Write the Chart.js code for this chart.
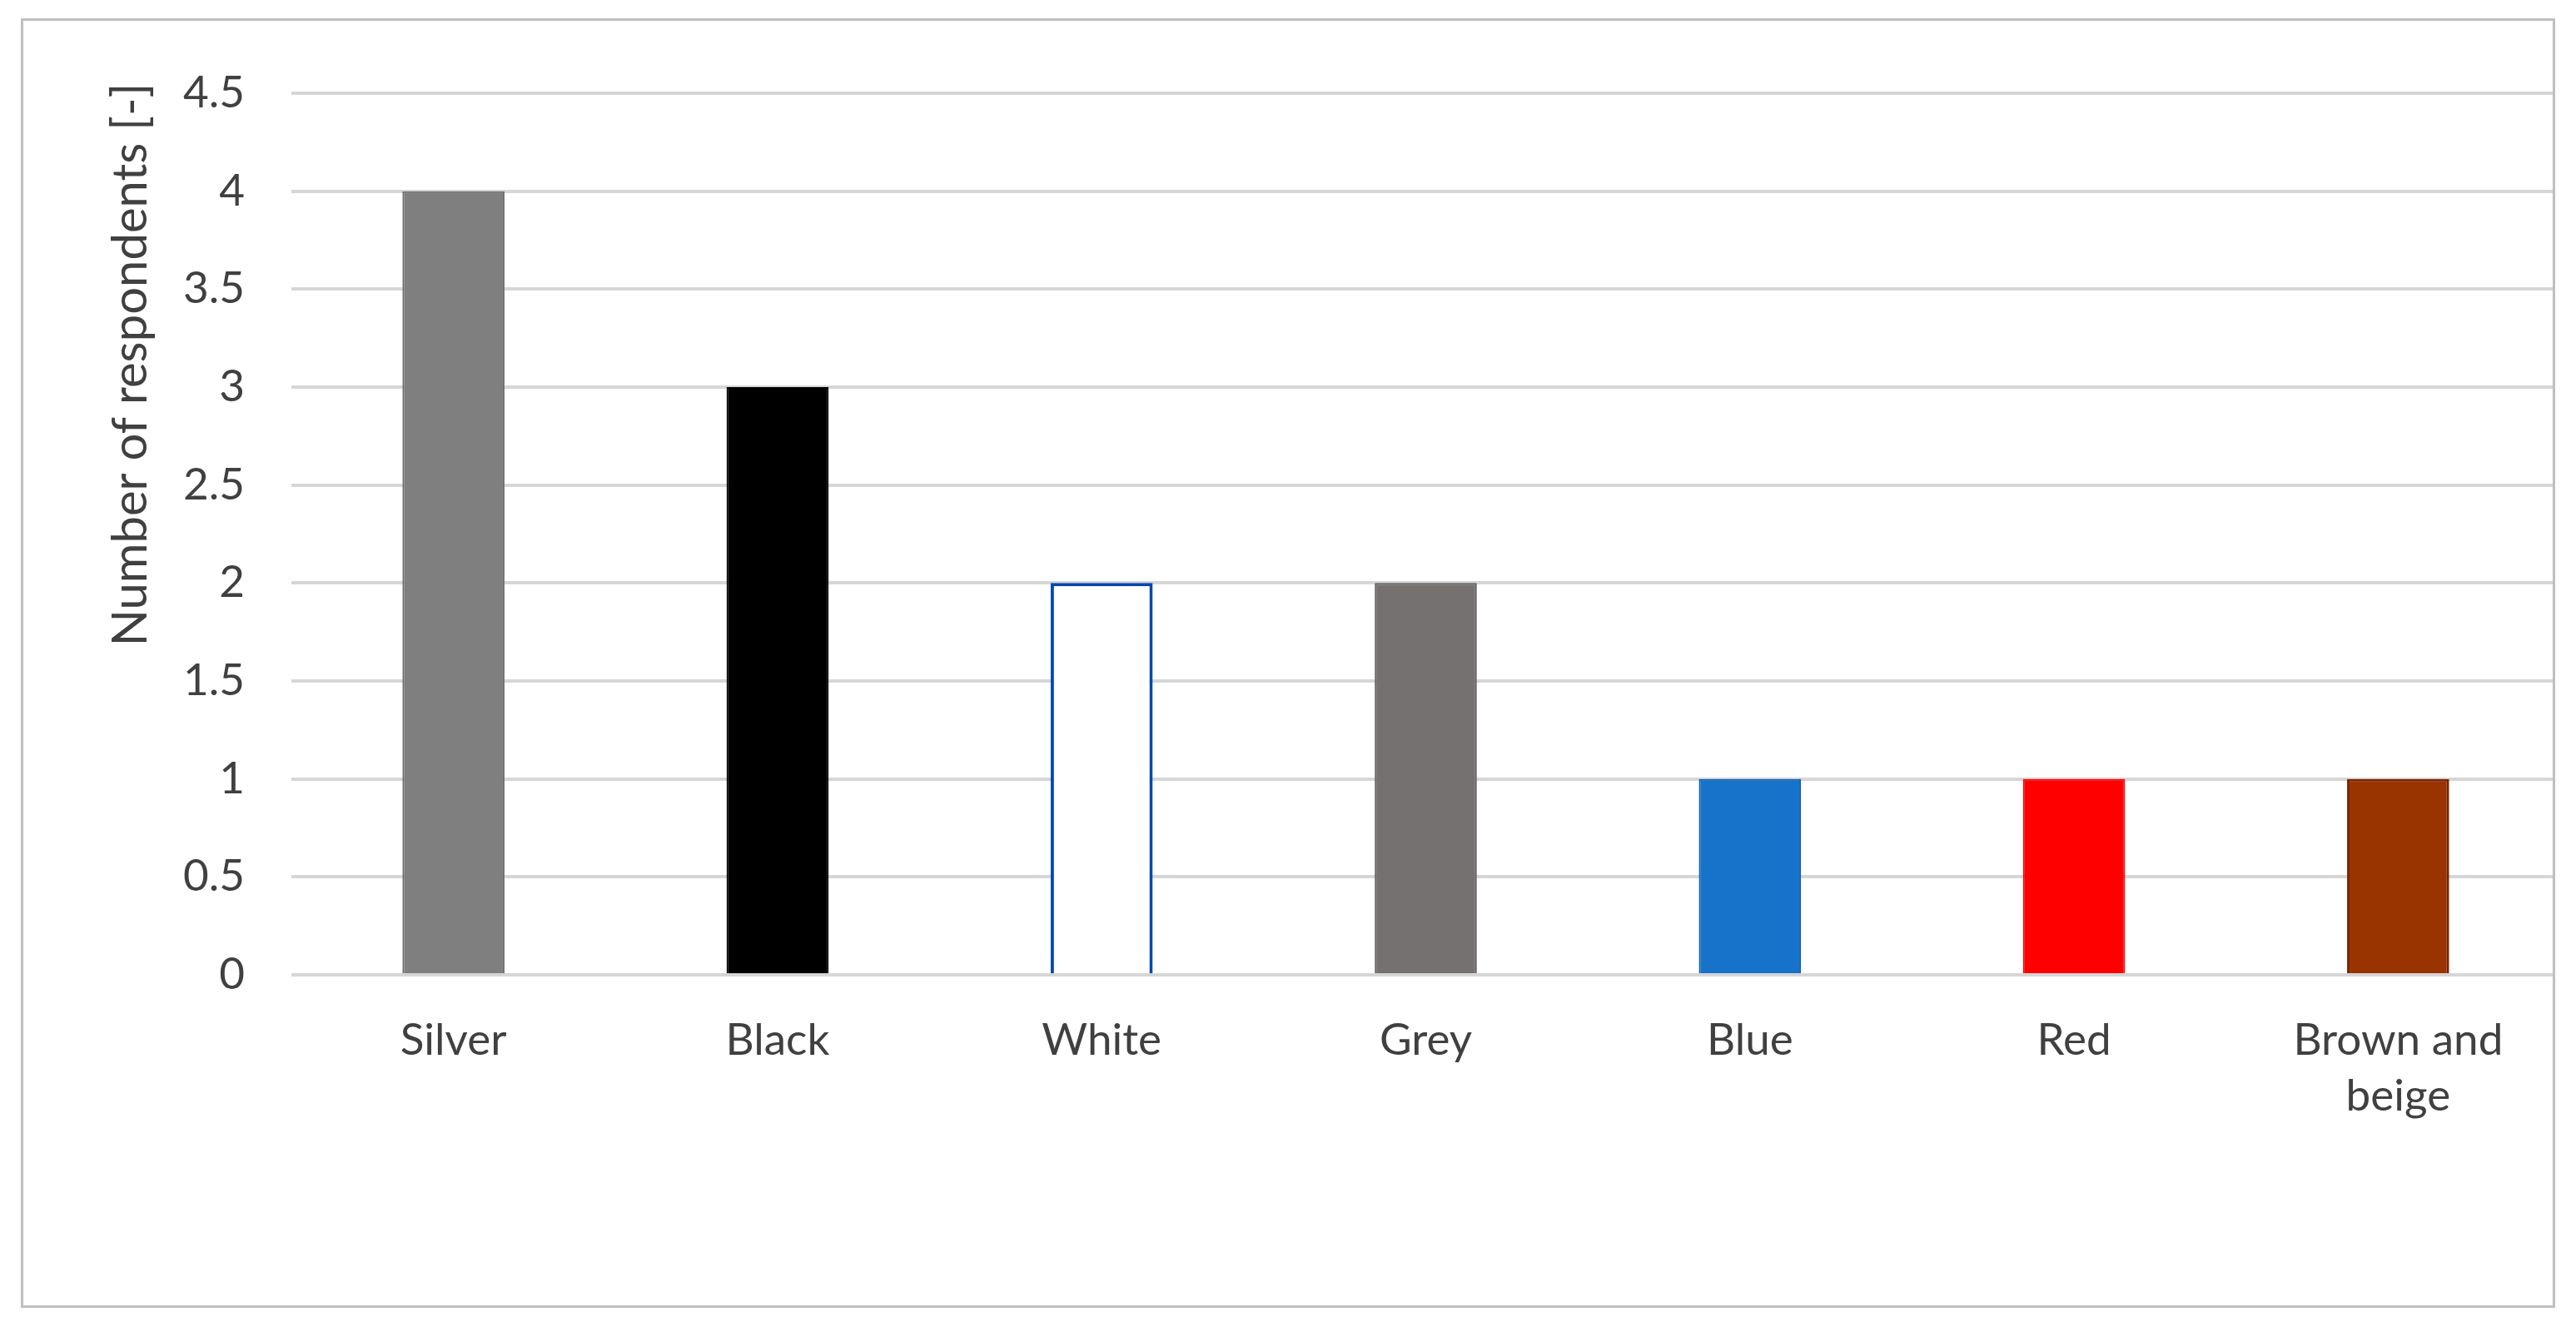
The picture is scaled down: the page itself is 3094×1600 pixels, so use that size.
<!DOCTYPE html>
<html>
<head>
<meta charset="utf-8">
<script src="https://cdn.jsdelivr.net/npm/chart.js@4.4.1/dist/chart.umd.min.js"></script>
<style>
    html, body { margin: 0; padding: 0; background: #fff; }
    body { width: 3094px; height: 1600px; position: relative; overflow: hidden; }
    #frame {
        position: absolute; left: 25px; top: 22px;
        width: 3044px; height: 1549px; box-sizing: border-box;
        border: 3px solid #bfbfbf; overflow: hidden;
    }
    /* canvas sits at page 0,0 so the frame clips it like the original */
    #chart { position: absolute; left: -28px; top: -25px; }
</style>
</head>
<body>
<div id="frame">
    <canvas id="chart" width="3094" height="1600"></canvas>
</div>
<script>
    // --- chart data ---
    const categories = ['Silver', 'Black', 'White', 'Grey', 'Blue', 'Red', ['Brown and', 'beige']];
    const respondents = [4, 3, 2, 2, 1, 1, 1];
    const barColors = ['#7f7f7f', '#000000', '#ffffff', '#767171', '#1772c9', '#ff0000', '#993300'];
    const barEdges = ['#6e6e6e', '#000000', '#0047b3', '#676262', '#0b5db3', '#ff0000', '#7a2100'];
    const edgeWidths = [2, 2, 4, 2, 2, 2, 3];
    const yTitle = 'Number of respondents [-]';
    const yMin = 0;
    const yMax = 4.5;
    const yStep = 0.5;

    const FONT = 'Lato, "Open Sans", sans-serif';
    const TEXT = '#404040';

    // y title is centred higher than the plot, as in the original
    const yTitlePlugin = {
        id: 'yTitle',
        afterDraw(chart) {
            const ctx = chart.ctx;
            ctx.save();
            ctx.translate(176, 438);
            ctx.rotate(-Math.PI / 2);
            ctx.font = '58px ' + FONT;
            ctx.fillStyle = TEXT;
            ctx.textAlign = 'center';
            ctx.textBaseline = 'alphabetic';
            ctx.fillText(yTitle, 0, 0);
            ctx.restore();
        }
    };

    const ctx = document.getElementById('chart').getContext('2d');
    new Chart(ctx, {
        type: 'bar',
        data: {
            labels: categories,
            datasets: [{
                label: yTitle,
                data: respondents,
                backgroundColor: barColors,
                borderColor: barEdges,
                borderWidth: edgeWidths,
                barPercentage: 0.315,
                categoryPercentage: 1.0
            }]
        },
        options: {
            responsive: false,
            animation: false,
            devicePixelRatio: 1,
            layout: { padding: { top: 112, left: 100, right: 19, bottom: 179 } },
            plugins: {
                legend: { display: false },
                tooltip: { enabled: false }
            },
            scales: {
                x: {
                    grid: { display: false, drawTicks: false },
                    border: { display: false },
                    ticks: {
                        color: TEXT,
                        font: { family: FONT, size: 53, lineHeight: 1.27 },
                        padding: 45,
                        autoSkip: false,
                        maxRotation: 0
                    },
                    afterFit(s) { s.height = 250; }
                },
                y: {
                    min: yMin,
                    max: yMax,
                    grid: { color: '#d6d6d6', lineWidth: 4, drawTicks: false },
                    border: { display: false },
                    ticks: {
                        stepSize: yStep,
                        color: TEXT,
                        font: { family: FONT, size: 53 },
                        padding: 56,
                        callback: (v) => String(v)
                    },
                    afterFit(s) { s.width = 250; }
                }
            }
        },
        plugins: [yTitlePlugin]
    });
</script>
</body>
</html>
